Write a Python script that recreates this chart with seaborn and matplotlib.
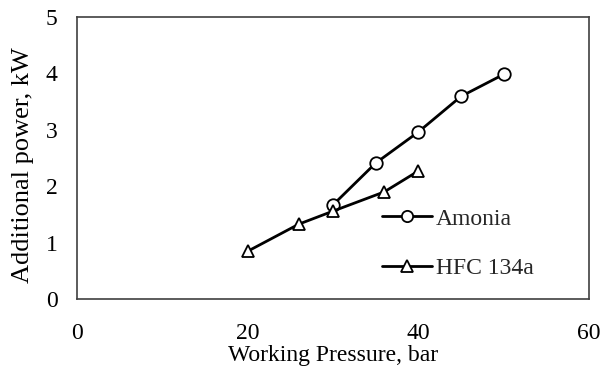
import matplotlib
matplotlib.use("Agg")
import matplotlib.pyplot as plt
import seaborn as sns
import pandas as pd

amonia_x = [30, 35, 40, 45, 50]
amonia_y = [1.67, 2.41, 2.96, 3.59, 3.98]
hfc_x = [20, 26, 30, 36, 40]
hfc_y = [0.85, 1.33, 1.56, 1.90, 2.27]
xticks = [0, 20, 40, 60]
yticks = [0, 1, 2, 3, 4, 5]

sns.set_theme(style="white")
plt.rcParams['font.family'] = ['Liberation Serif', 'DejaVu Serif']

fig = plt.figure(figsize=(6.14, 3.72), dpi=100)
L, R, T, B = 77, 589, 16.7, 299.3
ax = fig.add_axes([L / 614, 1 - B / 372, (R - L) / 614, (B - T) / 372])

df_a = pd.DataFrame({"x": amonia_x, "y": amonia_y})
df_h = pd.DataFrame({"x": hfc_x, "y": hfc_y})
sns.lineplot(data=df_a, x="x", y="y", ax=ax, color="black", lw=2.0,
             marker="o", markersize=9, markerfacecolor="white",
             markeredgecolor="black", markeredgewidth=1.3, label="Amonia")
sns.lineplot(data=df_h, x="x", y="y", ax=ax, color="black", lw=2.0,
             marker="^", markersize=9, markerfacecolor="white",
             markeredgecolor="black", markeredgewidth=1.3, label="HFC 134a")

ax.set_xlim(0, 60)
ax.set_ylim(0, 5)
ax.set_xticks(xticks)
ax.set_yticks(yticks)
ax.tick_params(axis="both", length=0, labelsize=17, colors="black")
ax.tick_params(axis="x", pad=17)
ax.tick_params(axis="y", pad=14)
for s in ax.spines.values():
    s.set_color("#404040")
    s.set_linewidth(1.2)
ax.set_xlabel("Working Pressure, bar", fontsize=17, color="black")
ax.set_ylabel("Additional power, kW", fontsize=19, color="black")
ax.xaxis.set_label_coords(0.5, -0.162)
ax.yaxis.set_label_coords(-0.084, 0.475)

leg = ax.legend(loc="upper left", bbox_to_anchor=(0.596, 0.323), frameon=False,
                fontsize=17, handlelength=2.1, handletextpad=0.17,
                labelspacing=1.2, markerscale=0.9, borderpad=0,
                borderaxespad=0)

fig.savefig("out.png", dpi=100)
